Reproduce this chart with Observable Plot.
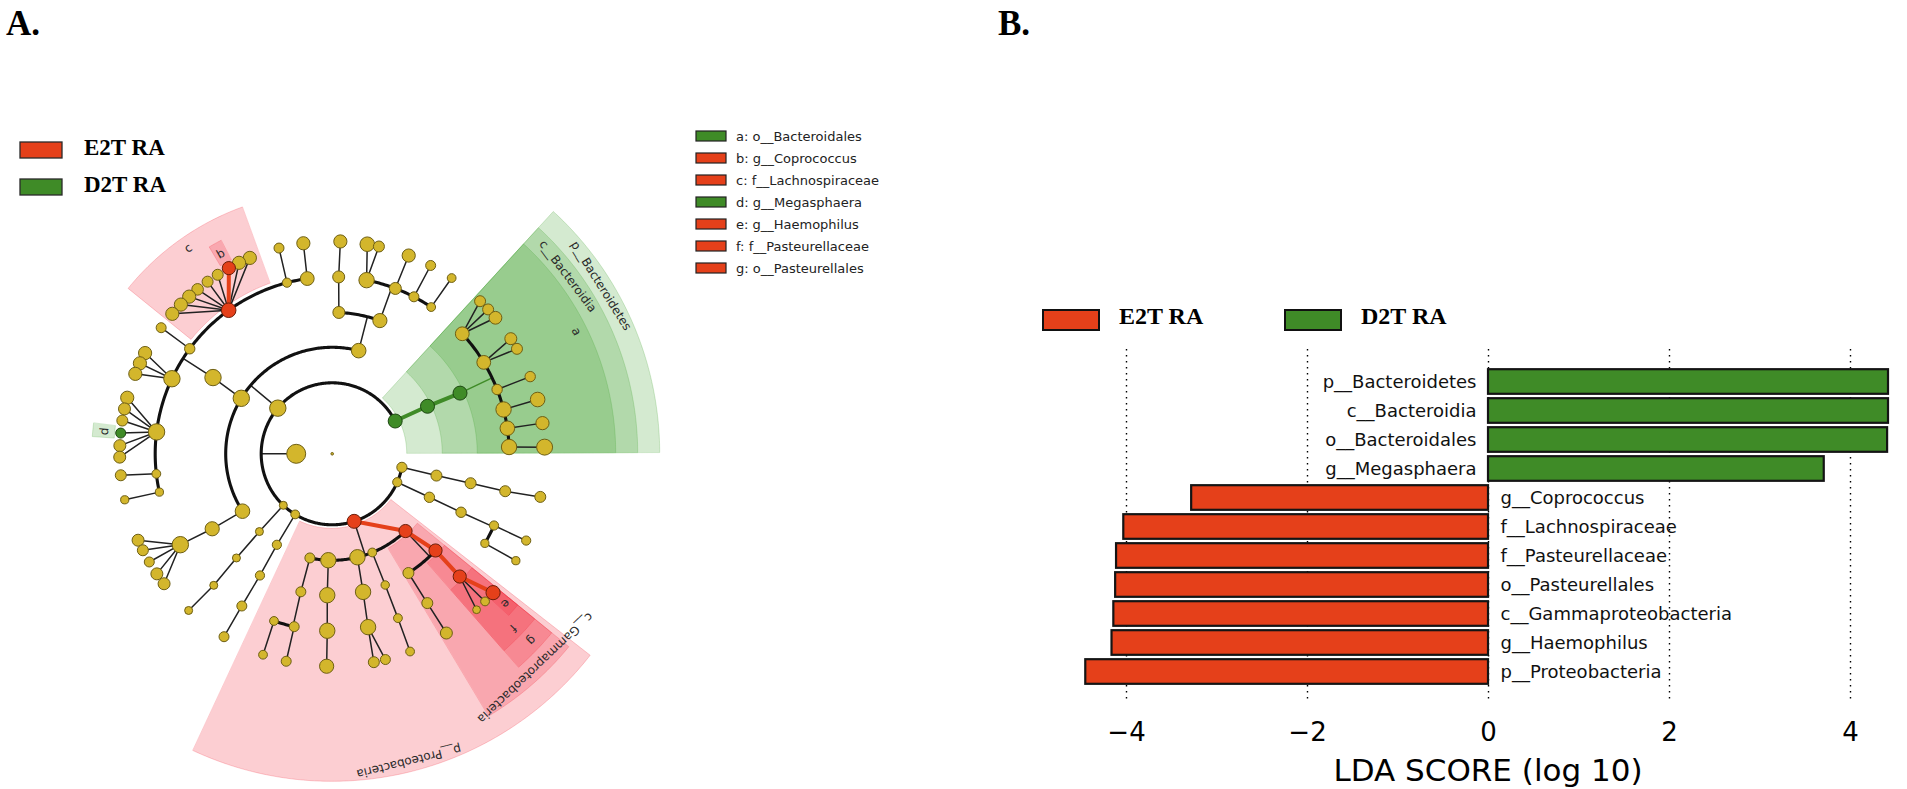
<!DOCTYPE html>
<html>
<head>
<meta charset="utf-8">
<script src="https://cdn.jsdelivr.net/npm/d3@7"></script>
<script src="https://cdn.jsdelivr.net/npm/@observablehq/plot@0.6"></script>
<style>
  html,body{margin:0;padding:0;background:#fff;}
  #page{position:relative;width:1907px;height:789px;overflow:hidden;background:#fff;}
  #page > svg, #page > figure{position:absolute;margin:0;}
</style>
</head>
<body>
<div id="page"></div>
<script>
// ================= DATA =================
// Panel B: LDA scores
const taxa = ["p__Bacteroidetes","c__Bacteroidia","o__Bacteroidales","g__Megasphaera","g__Coprococcus",
  "f__Lachnospiraceae","f__Pasteurellaceae","o__Pasteurellales","c__Gammaproteobacteria","g__Haemophilus","p__Proteobacteria"];
const lda = [4.42, 4.42, 4.41, 3.71, -3.28, -4.03, -4.11, -4.12, -4.14, -4.16, -4.45];
const ldaTicks = [-4, -2, 0, 2, 4];
const groupNames = ["E2T RA", "D2T RA"];

// Panel A: cladogram (parent links, angular position in degrees, node size)
const nodeId = [
 "root","K","P1","P2","P3","P4","P5","P6","P7",
 "B2","B3","B4a","B4b","B4c","B4d","B4e","B4f","B5a1","B5a2","B5a3","B5b1","B5b2","B5c","B5d","B5e","B5f",
 "C1","O1","O2","F1","G10","F2","F3","F4","F5","G11","G12","G13","G14","G15",
 "C2","O3","F13","F12","F11","F10","F9","F8","F7","F6",
 "G16","G17","L1","L2","L3","L4","L5","L6","L7","L8","L9","G27","M1","M2","M3","D1","D2","D3","D4","D5","D6","G34","G35",
 "C3","O4","F14","H1","H2","H3","H4","H5",
 "Q1","Q2","Q3","Q4",
 "R1","R2","R3","R4",
 "C4","C5","C6","C7","C8","O5","F15","F16","S1","S2","O6","F17","S3","O7","F18","S4","S5","O8","F19","S6","O9","O10","F20","S7","F21","E","S8","S9",
 "T1","T2","T3","T4","T5","T6",
 "U1","U2","U3","U4"];
const nodeParent = [
 "","root","K","K","K","K","K","K","K",
 "P1","B2","B3","B3","B3","B3","B3","B3","B4a","B4a","B4a","B4b","B4b","B4c","B4d","B4e","B4f",
 "P2","C1","C1","O2","F1","O1","O1","O1","O1","F2","F2","F3","F4","F5",
 "P2","C2","O3","O3","O3","O3","O3","O3","O3","O3",
 "F13","F12","F11","F11","F11","F11","F11","F11","F11","F11","F11","F10","F9","F9","F9","F8","F8","F8","F8","F8","F8","F7","F6",
 "P2","C3","O4","F14","F14","F14","F14","F14",
 "P3","Q1","Q2","Q3",
 "P4","R1","R2","R3",
 "P5","P5","P5","P5","P5","C4","O5","O5","F15","F16","C5","O6","F17","C6","O7","F18","F18","C7","O8","F19","C8","C8","O9","F20","O10","F21","F21","F21",
 "P6","T1","T2","T2","T3","T4",
 "P7","U1","U2","U3"];
const nodeAngle = [
 0, 180, 27.5, 140, 226.5, 238.6, 288, 336.4, 349,
 26.5, 25.4, 42.7, 31.1, 21.3, 14.5, 8.3, 2.2, 45.9, 42.8, 39.8, 32.8, 29.6, 21.3, 14.8, 8.3, 1.8,
 75.6, 70.3, 87.3, 87.9, 87.8, 78.8, 69.1, 62.5, 56, 80.5, 77.3, 68.9, 62.4, 55.8,
 148.6, 147.4, 98.1, 104.8, 125.8, 143.6, 154.9, 172.9, 186.5, 192.5,
 97.8, 104.5, 112.8, 116, 119.1, 122.6, 125.9, 129.3, 132.3, 135.4, 138.8, 143.6, 151.7, 154.8, 157.9, 164.7, 167.8, 171, 174.4, 177.8, 180.9, 185.8, 192.5,
 212.6, 212, 210.9, 204, 207, 210.6, 214.4, 217.7,
 226.9, 227.4, 228, 227.5,
 238.7, 239.3, 239.3, 239.4,
 257.9, 267.9, 283.7, 292.1, 313.5, 257.2, 257.6, 250.8, 257.5, 251, 268, 268.4, 268.5, 282.6, 281.7, 281.3, 284.5, 292, 291.8, 291.5, 302.6, 316.9, 302.5, 302.5, 316.1, 319.2, 316, 312.8,
 335.9, 335.6, 336.1, 329.6, 335.9, 329.8,
 348.2, 348, 347.8, 348.3];
const nodeSize = [
 1.3, 9.5, 7, 8.2, 4, 4.4, 7, 4.6, 5.1,
 7, 7, 6.9, 6.9, 5.2, 7.7, 7.3, 7.7, 5.5, 5.5, 6.4, 6, 5.5, 5.2, 7.3, 6.6, 8,
 7.3, 7.1, 6, 6, 6.6, 7.7, 6, 5, 4.4, 7.3, 5.5, 6.6, 5, 4.4,
 8.2, 8.2, 6.9, 4.6, 7.3, 5.2, 8.2, 8.2, 4.4, 4.1,
 6.6, 5, 6.6, 6.6, 6.6, 5.5, 5.5, 5.8, 6.6, 6.6, 6.6, 5, 6.6, 6.6, 6.6, 6.6, 6, 5.5, 5, 6, 6, 5.5, 4.1,
 7.3, 7.1, 8.2, 6, 5.5, 5, 6, 6,
 4, 4, 4, 4,
 4.6, 4.6, 5, 5,
 5, 7.7, 7.7, 4.4, 6.6, 5, 5, 4.4, 5, 4.4, 7.7, 7.7, 7.1, 7.7, 7.7, 5.5, 5, 4.2, 4.4, 4.4, 5.5, 6.6, 5.5, 6, 6.6, 7.1, 4.4, 3.9,
 5.2, 5.2, 4.6, 4.1, 4.6, 4.1,
 5.5, 5.5, 5.5, 5.5];
const redNodes = ["P5","C8","O10","F21","E","F11","L3"];
const greenNodes = ["P1","B2","B3","D4"];

// Highlighted clades (shaded sectors)
const cladeLabel = ["p__Bacteroidetes","c__Bacteroidia","a","b","c","d","e","f","g","c__Gammaproteobacteria","p__Proteobacteria"];
const cladeLevel = [2, 3, 4, 6, 5, 6, 6, 5, 4, 3, 2];
const cladeFrom  = [0.2, 0.2, 0.2, 117.5, 110, 172.8, 317.6, 311.2, 311.2, 300.9, 245];
const cladeTo    = [47.5, 47.5, 47.5, 120.7, 141, 176, 320.8, 320.8, 320.8, 320.8, 322];
const cladeLabelAngle = [32, 37, 26.6, 119.1, 125, 174.4, 319.2, 316.1, 316.9, 313.5, 284];
const cladeGroup = ["D2T RA","D2T RA","D2T RA","E2T RA","E2T RA","D2T RA","E2T RA","E2T RA","E2T RA","E2T RA","E2T RA"];

// Letter key
const keyLetter = ["a","b","c","d","e","f","g"];
const keyName = ["o__Bacteroidales","g__Coprococcus","f__Lachnospiraceae","g__Megasphaera","g__Haemophilus","f__Pasteurellaceae","o__Pasteurellales"];
const keyGroup = ["D2T RA","E2T RA","E2T RA","D2T RA","E2T RA","E2T RA","E2T RA"];

// ================= STYLE =================
const RED = "#e5401a", GREEN = "#3f8b27", YELLOW = "#d3b62c";
const groupColor = {"E2T RA": RED, "D2T RA": GREEN};
const shadeColor = {"E2T RA": "#f01e30", "D2T RA": "#3ca028"};
const page = document.getElementById("page");

// ================= PANEL A (cladogram) =================
const rad = Math.PI / 180;
const R = [0, 36, 71, 106.5, 141.5, 177, 212.5];
const RING0 = 218, RINGW = 22;
const pol = (a, r) => ({x: r * Math.cos(a * rad), y: r * Math.sin(a * rad)});

const nodes = nodeId.map((id, i) => ({id, parent: nodeParent[i], angle: nodeAngle[i], size: nodeSize[i]}));
const byId = new Map(nodes.map(d => [d.id, d]));
for (const d of nodes) {
  let l = 0, p = d.parent;
  while (p) { l++; p = byId.get(p).parent; }
  d.level = l;
  d.group = redNodes.includes(d.id) ? "r" : greenNodes.includes(d.id) ? "g" : "y";
  Object.assign(d, pol(d.angle, R[l]));
}
const fillOf = {y: YELLOW, r: RED, g: GREEN};
const edgeOf = {y: "#6e5f14", r: "#6b1d08", g: "#1d4812"};

const thin = [], thick = [], colored = [];
let sid = 0;
function pushLine(arr, pts, color) { const id = sid++; pts.forEach(p => arr.push({id, x: p.x, y: p.y, color})); }
function arcPts(a0, a1, r) {
  const n = Math.max(2, Math.ceil(Math.abs(a1 - a0) / 0.7));
  return d3.range(n + 1).map(i => pol(a0 + (a1 - a0) * i / n, r));
}
for (const p of nodes) {
  if (p.id === "root") continue;
  const kids = nodes.filter(c => c.parent === p.id);
  if (!kids.length) continue;
  const rc = R[p.level + 1];
  if (kids.length > 1 && p.level <= 4) {
    pushLine(thin, [pol(p.angle, R[p.level]), pol(p.angle, rc)], p.group === "g" ? GREEN : "#222");
    const as = kids.map(k => k.angle);
    pushLine(thick, arcPts(d3.min(as), d3.max(as), rc), "#111");
    kids.forEach(k => { if (k.group !== "y" && k.group === p.group) pushLine(colored, [p, k], fillOf[k.group]); });
  } else {
    kids.forEach(k => {
      if (k.group !== "y" && k.group === p.group) pushLine(colored, [p, k], fillOf[k.group]);
      else pushLine(thin, [p, k], "#222");
    });
  }
}

// sectors
const sectors = [];
const labels = [];
cladeLabel.forEach((lab, i) => {
  const lev = cladeLevel[i];
  const inner = lev === 6 ? RING0 : R[lev] + 4;
  const outer = RING0 + (7 - lev) * RINGW;
  const a0 = cladeFrom[i], a1 = cladeTo[i];
  const n = Math.ceil((a1 - a0) / 0.5);
  for (let j = 0; j <= n; j++) {
    const a = a0 + (a1 - a0) * j / n;
    const pi = pol(a, inner), po = pol(a, outer);
    sectors.push({id: i, x1: pi.x, y1: pi.y, x2: po.x, y2: po.y, fill: shadeColor[cladeGroup[i]]});
  }
  const la = cladeLabelAngle[i];
  const pl = pol(la, outer - RINGW / 2);
  labels.push({x: pl.x, y: pl.y, text: lab, rot: 90 - la});
});

const plotA = Plot.plot({
  width: 1000, height: 789, margin: 0,
  x: {domain: [-331.7, 668.3], axis: null},
  y: {domain: [-335.7, 453.3], axis: null},
  r: {type: "identity"},
  color: {type: "identity"},
  style: {fontFamily: "DejaVu Sans", background: "transparent", overflow: "visible"},
  marks: [
    Plot.area(sectors, {x1: "x1", y1: "y1", x2: "x2", y2: "y2", z: "id", fill: "fill", fillOpacity: 0.22, stroke: "fill", strokeOpacity: 0.22, strokeWidth: 1}),
    Plot.text(labels, {x: "x", y: "y", text: "text", rotate: "rot", fontSize: 12, fill: "#2a2a2a"}),
    Plot.line(thin, {x: "x", y: "y", z: "id", stroke: "color", strokeWidth: 1.5}),
    Plot.line(thick, {x: "x", y: "y", z: "id", stroke: "color", strokeWidth: 3.1}),
    Plot.line(colored, {x: "x", y: "y", z: "id", stroke: "color", strokeWidth: 4}),
    Plot.dot(nodes, {x: "x", y: "y", r: "size", fill: d => fillOf[d.group], stroke: d => edgeOf[d.group], strokeWidth: 1,
      sort: d => (d.group === "y" ? 0 : 1)})
  ]
});
plotA.style.left = "0px"; plotA.style.top = "0px";
page.appendChild(plotA);

// ================= PANEL B (LDA bars) =================
const rows = taxa.map((t, i) => ({taxon: t, lda: lda[i], group: lda[i] < 0 ? groupNames[0] : groupNames[1]}));
const plotB = Plot.plot({
  width: 907, height: 789,
  marginLeft: 80.75, marginRight: 11.75, marginTop: 366, marginBottom: 103,
  x: {domain: [-4.5, 4.5]},
  y: {domain: taxa, padding: 0, axis: null},
  color: {type: "identity"},
  style: {fontFamily: "DejaVu Sans", background: "transparent", color: "#000"},
  marks: [
    Plot.ruleX(ldaTicks, {stroke: "#000", strokeWidth: 1.4, strokeDasharray: "1.4,4.6", insetTop: -17, insetBottom: -13}),
    Plot.barX(rows, {x: "lda", y: "taxon", fill: d => groupColor[d.group], stroke: "#141414", strokeWidth: 2.2, insetTop: 2.2, insetBottom: 2.2}),
    Plot.text(rows.filter(d => d.lda > 0), {x: 0, y: "taxon", text: "taxon", textAnchor: "end", dx: -12, fontSize: 18, fill: "#111"}),
    Plot.text(rows.filter(d => d.lda < 0), {x: 0, y: "taxon", text: "taxon", textAnchor: "start", dx: 12, fontSize: 18, fill: "#111"}),
    Plot.axisX(ldaTicks, {tickSize: 0, tickPadding: 36, fontSize: 26, label: null})
  ]
});
plotB.style.left = "1000px"; plotB.style.top = "0px";
page.appendChild(plotB);

// ================= Titles & legends =================
const ov = d3.select(page).append("svg").attr("width", 1907).attr("height", 789)
  .style("left", "0px").style("top", "0px").style("pointer-events", "none");
const serif = "Liberation Serif";
ov.append("text").attr("x", 6).attr("y", 35).attr("font-family", serif).attr("font-weight", "bold").attr("font-size", 35).text("A.");
ov.append("text").attr("x", 998).attr("y", 35).attr("font-family", serif).attr("font-weight", "bold").attr("font-size", 35).text("B.");

// Panel A group legend
groupNames.forEach((g, i) => {
  const y0 = 142 + i * 37;
  ov.append("rect").attr("x", 20).attr("y", y0).attr("width", 42).attr("height", 16)
    .attr("fill", groupColor[g]).attr("stroke", "#2a2a2a").attr("stroke-width", 1.3);
  ov.append("text").attr("x", 84).attr("y", y0 + 13).attr("font-family", serif).attr("font-weight", "bold")
    .attr("font-size", 23).text(g);
});
// Panel A letter key
keyLetter.forEach((k, i) => {
  const yc = 136 + i * 22;
  ov.append("rect").attr("x", 696).attr("y", yc - 5).attr("width", 30).attr("height", 10)
    .attr("fill", groupColor[keyGroup[i]]).attr("stroke", "#222").attr("stroke-width", 1.2);
  ov.append("text").attr("x", 736).attr("y", yc + 4.6).attr("font-family", "DejaVu Sans").attr("font-size", 13)
    .attr("fill", "#222").text(`${k}: ${keyName[i]}`);
});
// Panel B group legend
groupNames.forEach((g, i) => {
  const x0 = 1043 + i * 242;
  ov.append("rect").attr("x", x0).attr("y", 310).attr("width", 56).attr("height", 20)
    .attr("fill", groupColor[g]).attr("stroke", "#111").attr("stroke-width", 2);
  ov.append("text").attr("x", x0 + 76).attr("y", 324).attr("font-family", serif).attr("font-weight", "bold")
    .attr("font-size", 24).text(g);
});
// Panel B axis title
ov.append("text").attr("x", 1488).attr("y", 781).attr("text-anchor", "middle").attr("font-family", "DejaVu Sans")
  .attr("font-size", 31).text("LDA SCORE (log 10)");
</script>
</body>
</html>
